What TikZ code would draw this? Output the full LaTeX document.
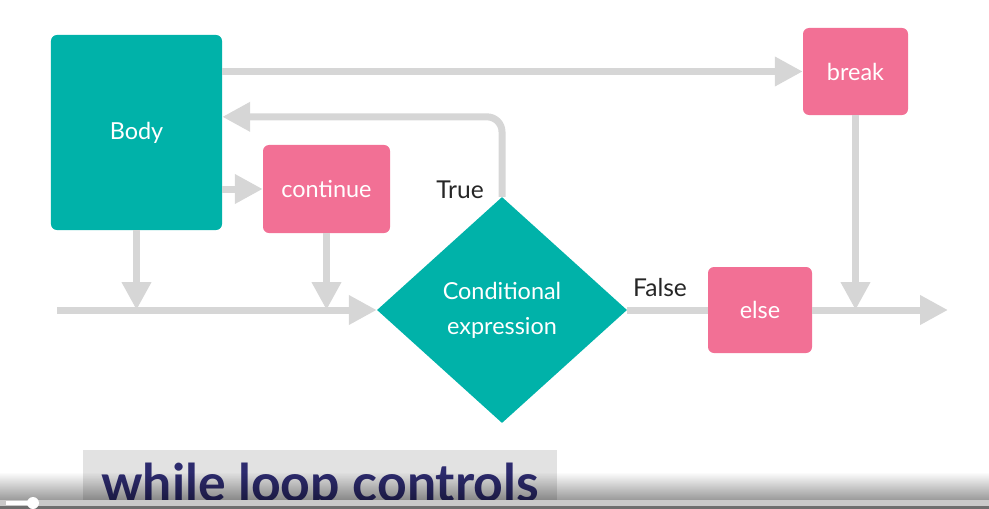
\documentclass[tikz,border=0pt]{standalone}
\usepackage{fontspec}
\setmainfont{Lato}
\usepackage{xcolor}
\usetikzlibrary{arrows.meta,positioning,shapes.geometric,fadings}

\definecolor{loopteal}{RGB}{0,178,169}
\definecolor{looppink}{RGB}{242,112,149}
\definecolor{flowgray}{RGB}{214,214,214}
\definecolor{titlegray}{RGB}{226,226,226}
\definecolor{titlenavy}{RGB}{45,43,110}

\begin{document}
\begin{tikzpicture}[x=0.03cm,y=-0.03cm,
  block/.style={rounded corners=0.18cm,align=center,text=white,inner sep=0pt,
    font=\fontsize{20}{30}\selectfont},
  bodybox/.style={block,fill=loopteal},
  ctrl/.style={block,fill=looppink},
  decision/.style={diamond,fill=loopteal,text=white,align=center,inner sep=0pt,
    minimum width=7.5cm,minimum height=6.78cm,font=\fontsize{20}{30}\selectfont},
  wire/.style={draw=flowgray,line width=0.21cm},
  flow/.style={wire,-{Triangle[length=0.84cm,width=0.84cm]}},
  lbl/.style={font=\fontsize{21}{25}\selectfont,text=black!85}
]
  \clip (0,0) rectangle (989,509);

  \node[bodybox,minimum width=5.13cm,minimum height=5.85cm] (body) at (136.5,132.5) {Body};
  \node[ctrl,minimum width=3.15cm,minimum height=2.61cm] (brk)  at (855.5,71.5) {break};
  \node[ctrl,minimum width=3.81cm,minimum height=2.64cm] (cont) at (326.5,189) {continue};
  \node[decision] (cond) at (502,310) {Conditional\\expression};
  \node[ctrl,minimum width=3.12cm,minimum height=2.58cm] (els)  at (760,310) {else};

  \coordinate (start)  at (57,310);
  \coordinate (finish) at (948,310);

  % main line
  \draw[flow] (start) -- (cond.west);
  \draw[wire] (cond.east) -- (els.west);
  \draw[flow] (els.east) -- (finish);

  % into the main line
  \draw[flow] (body.south) -- (body.south |- start);
  \draw[flow] (cont.south) -- (cont.south |- start);
  \draw[flow] (brk.south)  -- (brk.south |- start);

  % out of the body
  \draw[flow] (body.east |- brk.west)  -- (brk.west);
  \draw[flow] (body.east |- cont.west) -- (cont.west);
  \draw[flow,rounded corners=0.45cm] (cond.north) |- ([yshift=0.47cm]body.east);

  \node[lbl,anchor=base] (truelbl)  at (460,198) {True};
  \node[lbl,anchor=base] (falselbl) at (660,296) {False};

  % title and player bar
  \node[fill=titlegray,anchor=north west,minimum width=14.22cm,minimum height=2.4cm,
    inner sep=0pt] (titlebox) at (83,450) {};
  \node[anchor=base west,inner sep=0pt,text=titlenavy,
    font=\fontsize{44.2}{48}\selectfont\bfseries] (title) at (101,501) {while loop controls};
  \fill[black,fill opacity=0.4,path fading=north] (0,472) rectangle (989,500);
  \fill[black!21] (0,500) rectangle (989,506);
  \fill[black!57] (0,506) rectangle (989,509);
  \draw[white,line width=0.12cm] (6,503) -- (33,503);
  \fill[white] (33,503) circle (6);
\end{tikzpicture}
\end{document}
